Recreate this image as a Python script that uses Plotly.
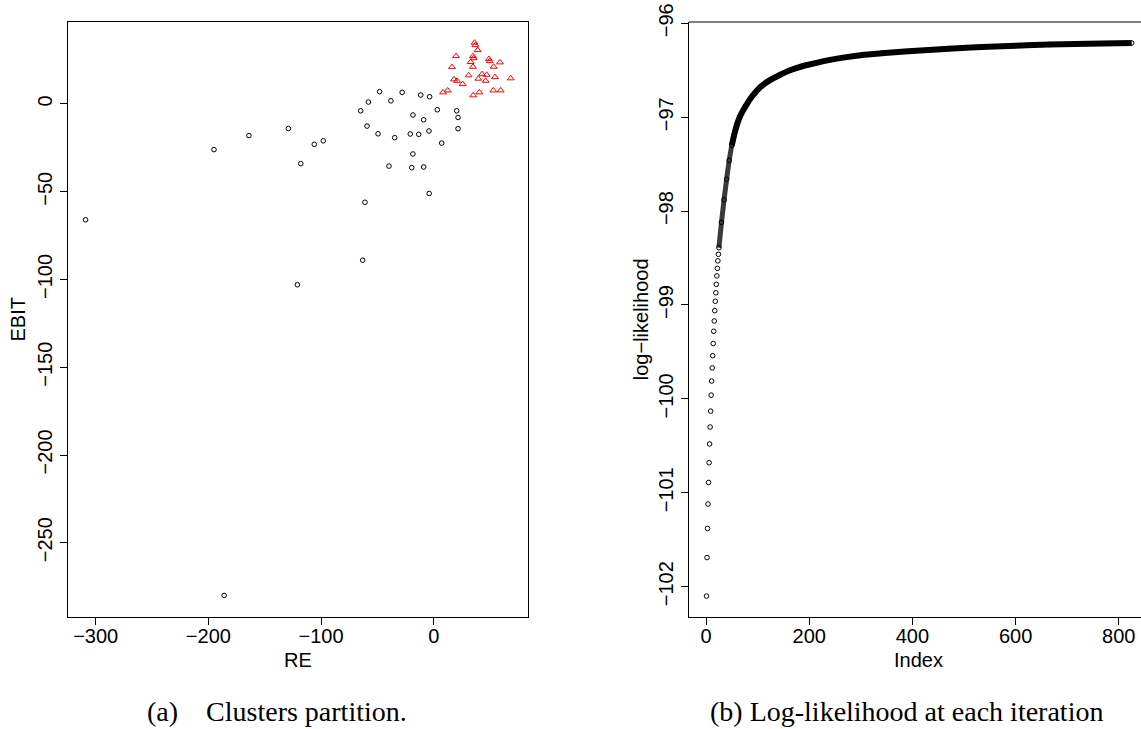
import plotly.graph_objects as go

W, H = 1141, 729

# ---------------- Panel (a): clusters partition ----------------
re_c1 = [-309, -186, -121, -63, -61, -4, -195, -164, -129, -118, -106, -98,
         -48, -28, -58, -38, -11.5, -3.6, -64.8, 3.2, 20.4, 21.6, -18.4, -8.9,
         -59.2, 21.6, -49.4, -34.6, -20.8, -13.3, -4.2, 7.1, -18.5, -39.7, -19.5, -8.9]
ebit_c1 = [-66, -280, -103, -89, -56, -51, -26, -18, -14, -34, -23, -21,
           7, 6.6, 1.1, 1.8, 5.1, 4.1, -3.9, -3.3, -3.9, -7.7, -6.3, -9,
           -12.6, -14.1, -17, -19.2, -17.1, -17.3, -15.4, -22.3, -28.5, -35.4, -36.3, -35.9]

re_c2 = [36.3, 37.0, 39.0, 19.8, 34.9, 35.5, 32.8, 49.0, 49.7, 58.8, 16.2, 34.9,
         53.2, 31.0, 42.9, 47.0, 54.4, 68.3, 39.6, 18.0, 20.7, 46.1, 25.7, 8.3,
         12.4, 35.1, 40.5, 52.9, 59.4]
ebit_c2 = [34.9, 33.5, 30.7, 27.3, 27.3, 26.1, 23.9, 25.6, 24.4, 23.7, 21.0, 21.2,
           21.2, 16.3, 17.0, 16.6, 15.3, 14.6, 14.4, 14.0, 13.2, 13.2, 11.3, 6.6,
           7.7, 4.9, 6.6, 7.7, 7.7]

x1_ticks = [-300, -200, -100, 0]
y1_ticks = [-250, -200, -150, -100, -50, 0]

# ---------------- Panel (b): log-likelihood per iteration ----------------
iter_idx = [1, 2, 3, 4, 5, 6, 7, 8, 9, 10, 11, 12, 13, 14, 15, 16, 17, 18, 19, 20,
            21, 22, 23, 24, 25, 30, 35, 40, 45, 50, 55, 60, 66, 77, 89, 105, 124,
            143, 163, 185, 208, 240, 273, 300, 340, 400, 470, 535, 600, 665, 740, 825]
loglik = [-102.10, -101.69, -101.38, -101.12, -100.89, -100.68, -100.48, -100.30,
          -100.13, -99.96, -99.81, -99.67, -99.54, -99.41, -99.28, -99.17, -99.06,
          -98.96, -98.87, -98.78, -98.69, -98.61, -98.53, -98.46, -98.39, -98.12,
          -97.88, -97.66, -97.46, -97.30, -97.18, -97.08, -96.99, -96.88, -96.78,
          -96.68, -96.605, -96.55, -96.50, -96.46, -96.43, -96.39, -96.36, -96.34,
          -96.32, -96.295, -96.27, -96.253, -96.238, -96.226, -96.217, -96.21]
overlap_from = 25  # circles start to overlap (textured band)
solid_from = 50    # circles fully merge into a solid band

x2_ticks = [0, 200, 400, 600, 800]
y2_ticks = [-102, -101, -100, -99, -98, -97, -96]

# ---------------- figure ----------------
def px(x):
    return x / W

def py(y):
    return 1 - y / H

TICKFONT = dict(family="Liberation Sans, Arial, sans-serif", size=20, color="black")
CAPFONT = dict(family="Liberation Serif, Times New Roman, serif", size=28, color="black")

fig = go.Figure()

fig.add_trace(go.Scatter(
    x=re_c1, y=ebit_c1, mode="markers", xaxis="x", yaxis="y",
    marker=dict(symbol="circle-open", size=4.6, color="black", line=dict(width=1, color="black")),
    showlegend=False, hoverinfo="skip"))
fig.add_trace(go.Scatter(
    x=re_c2, y=ebit_c2, mode="markers", xaxis="x", yaxis="y",
    marker=dict(symbol="triangle-up-open", size=6, color="red", line=dict(width=1, color="red")),
    showlegend=False, hoverinfo="skip"))

tex_x = [i for i in iter_idx if overlap_from <= i <= solid_from + 5]
tex_y = [v for i, v in zip(iter_idx, loglik) if overlap_from <= i <= solid_from + 5]
fig.add_trace(go.Scatter(
    x=tex_x, y=tex_y, mode="lines", xaxis="x2", yaxis="y2",
    line=dict(color="#3a3a3a", width=5, shape="spline", smoothing=1.0),
    showlegend=False, hoverinfo="skip"))

band_x = [i for i in iter_idx if i >= solid_from]
band_y = [v for i, v in zip(iter_idx, loglik) if i >= solid_from]
fig.add_trace(go.Scatter(
    x=band_x, y=band_y, mode="lines", xaxis="x2", yaxis="y2",
    line=dict(color="black", width=6, shape="spline", smoothing=1.0),
    showlegend=False, hoverinfo="skip"))
fig.add_trace(go.Scatter(
    x=iter_idx, y=loglik, mode="markers", xaxis="x2", yaxis="y2",
    marker=dict(symbol="circle-open", size=4.6, color="black", line=dict(width=1, color="black")),
    showlegend=False, hoverinfo="skip"))

ydom = [py(617), py(22)]
axis_common = dict(showline=True, linecolor="black", linewidth=1, ticks="outside",
                   ticklen=7, tickwidth=1, tickcolor="black", showgrid=False,
                   zeroline=False, tickfont=TICKFONT, automargin=False)

fig.update_layout(
    width=W, height=H, autosize=False,
    margin=dict(l=0, r=0, t=0, b=0, pad=0),
    paper_bgcolor="white", plot_bgcolor="white",
    xaxis=dict(domain=[px(68), px(528)], range=[-324.6, 83.7], tickvals=x1_ticks,
               mirror=True, anchor="y", ticklabelstandoff=-6, **axis_common),
    yaxis=dict(domain=ydom, range=[-292.3, 46.7], tickvals=y1_ticks, tickangle=-90,
               mirror=True, anchor="x", **axis_common),
    xaxis2=dict(domain=[px(689), 1.0], range=[-32.95, 843.0], tickvals=x2_ticks,
                mirror=False, anchor="y2", ticklabelstandoff=-6, **axis_common),
    yaxis2=dict(domain=ydom, range=[-102.323, -95.986], tickvals=y2_ticks, tickangle=-90,
                mirror=False, anchor="x2", **axis_common),
)

fig.add_shape(type="line", xref="paper", yref="paper", x0=px(689), x1=1.0,
              y0=ydom[1], y1=ydom[1], line=dict(color="black", width=1))

ann = [
    dict(text="EBIT", x=px(18), y=py(319.5), textangle=-90, font=TICKFONT),
    dict(text="log\u2212likelihood", x=px(641.7), y=py(319.5), textangle=-90, font=TICKFONT),
    dict(text="RE", x=px(298), y=py(660), font=TICKFONT),
    dict(text="Index", x=px(918.5), y=py(660), font=TICKFONT),
    dict(text="(a)\u00a0\u00a0\u00a0\u00a0Clusters partition.", x=px(277), y=py(711), font=CAPFONT),
    dict(text="(b) Log-likelihood at each iteration", x=px(906), y=py(711), font=CAPFONT),
]
for a in ann:
    fig.add_annotation(xref="paper", yref="paper", showarrow=False,
                       xanchor="center", yanchor="middle", **a)

fig.write_html("out.html")
